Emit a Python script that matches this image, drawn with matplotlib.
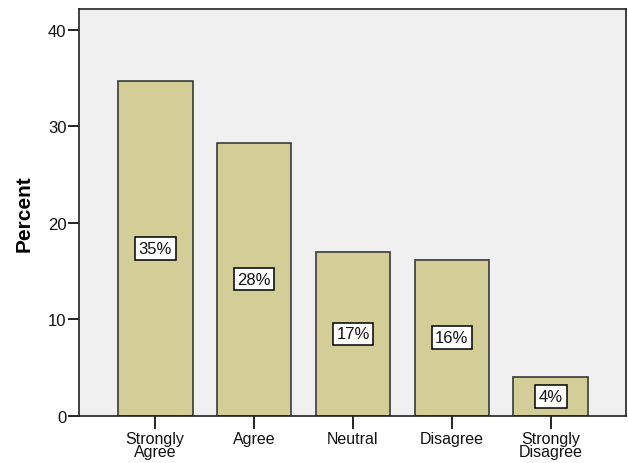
import matplotlib.pyplot as plt
import numpy as np

# response categories and percentages
categories = ['Strongly\nAgree', 'Agree', 'Neutral', 'Disagree', 'Strongly\nDisagree']
percent = [34.7, 28.3, 17.0, 16.2, 4.0]
bar_labels = ['35%', '28%', '17%', '16%', '4%']

plt.rcParams['font.family'] = ['Liberation Sans', 'DejaVu Sans']

fig = plt.figure(figsize=(6.28, 4.64), dpi=100)
ax = fig.add_axes([0.1258, 0.1019, 0.8710, 0.8759])
ax.set_facecolor('#f0f0f0')

x = np.arange(len(categories))
bars = ax.bar(x, percent, width=0.755, color='#d3ce97', edgecolor='#3a3a3a', linewidth=1.2)

# value boxes in the middle of each bar
for xi, val, lab in zip(x, percent, bar_labels):
    ax.text(xi, val / 2, lab, ha='center', va='center', fontsize=12, color='#111111',
            bbox=dict(boxstyle='square,pad=0.22', facecolor='white', edgecolor='black', linewidth=1.1))

ax.set_xlim(-0.77, 4.76)
ax.set_ylim(0, 42.15)
ax.set_yticks([0, 10, 20, 30, 40])
ax.set_xticks(x)
ax.set_xticklabels(categories, fontsize=11.5, linespacing=0.85, color='#111111')
ax.tick_params(axis='y', labelsize=12, length=8, width=1.2, pad=1, labelcolor='#111111')
ax.tick_params(axis='x', length=9, width=1.2, pad=2)
for s in ax.spines.values():
    s.set_color('#222222')
    s.set_linewidth(1.2)

ax.set_ylabel('Percent', fontsize=15, fontweight='bold', labelpad=10)

fig.savefig('out.png', dpi=100)
